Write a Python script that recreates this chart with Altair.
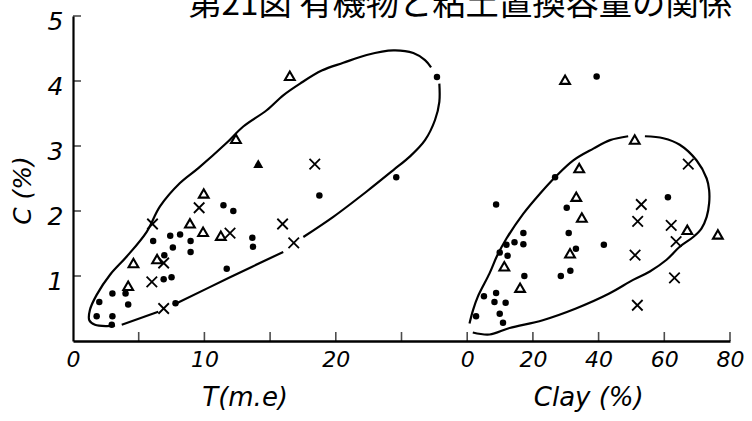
import altair as alt
import pandas as pd

# ---- C (%) against exchange capacity T (m.e) ----
t_dot_T = [1.8, 3.0, 2.95, 2.0, 4.2, 3.0, 4.0, 6.9, 7.5, 7.8, 11.7, 6.95, 7.6, 8.95, 6.1, 7.4, 8.15, 8.95,
           11.45, 12.2, 13.65, 13.7, 18.75, 24.6, 27.7]
t_dot_C = [0.38, 0.38, 0.25, 0.6, 0.56, 0.73, 0.73, 0.95, 0.98, 0.58, 1.11, 1.32, 1.44, 1.37, 1.54, 1.62,
           1.64, 1.54, 2.09, 2.0, 1.59, 1.45, 2.24, 2.52, 4.06]
t_tri_T = [4.2, 4.6, 6.4, 8.9, 9.9, 11.25, 9.95, 12.4, 16.5]
t_tri_C = [0.85, 1.2, 1.26, 1.81, 1.68, 1.62, 2.27, 3.11, 4.08]
t_solid_T = [14.1]
t_solid_C = [2.73]
t_x_T = [6.0, 6.9, 6.9, 6.05, 9.6, 11.95, 15.95, 16.8, 18.4]
t_x_C = [0.91, 1.2, 0.5, 1.8, 2.05, 1.66, 1.8, 1.51, 2.72]

# ---- C (%) against clay (%) ----
c_dot_clay = [2.7, 10.9, 9.9, 5.1, 8.8, 8.3, 11.7, 17.4, 28.5, 31.4, 9.9, 12.3, 11.95, 14.4, 17.1, 17.1,
              30.9, 33.1, 41.6, 30.3, 8.8, 26.75, 39.4, 61.1]
c_dot_C = [0.38, 0.28, 0.42, 0.69, 0.74, 0.6, 0.59, 1.0, 1.0, 1.08, 1.36, 1.31, 1.48, 1.52, 1.66, 1.49,
           1.66, 1.42, 1.48, 2.05, 2.1, 2.52, 4.07, 2.21]
c_tri_clay = [11.3, 16.1, 31.3, 34.9, 33.2, 34.1, 29.8, 51.0, 67.0, 76.3]
c_tri_C = [1.15, 0.82, 1.35, 1.9, 2.22, 2.66, 4.02, 3.1, 1.71, 1.64]
c_x_clay = [53.0, 51.9, 62.1, 63.6, 51.1, 63.1, 51.8, 67.3]
c_x_C = [2.1, 1.84, 1.78, 1.53, 1.32, 0.97, 0.55, 2.72]

# ---- hand-drawn envelopes (broken strokes), as (x, C) pairs ----
env_T = [
    [(3.2, 0.24), (2.56, 0.23), (1.67, 0.25), (1.24, 0.32), (1.29, 0.48), (1.8, 0.71), (2.82, 1.02),
     (4.09, 1.3), (5.61, 1.68), (6.62, 2.07), (8.14, 2.43), (9.54, 2.66), (11.7, 3.05), (12.96, 3.3),
     (14.74, 3.55), (16.0, 3.78), (17.28, 3.96), (18.93, 4.16), (20.57, 4.28), (22.35, 4.4),
     (24.38, 4.47), (25.9, 4.43), (26.79, 4.32), (27.25, 4.21)],
    [(27.88, 3.96), (27.88, 3.68), (27.55, 3.4), (26.79, 3.09), (25.65, 2.84), (24.38, 2.63),
     (22.35, 2.3), (19.81, 1.91), (17.53, 1.6)],
    [(16.0, 1.37), (11.95, 0.98), (7.89, 0.58)],
    [(6.49, 0.45), (3.71, 0.25)],
]
env_clay = [
    [(0.7, 0.27), (1.8, 0.48), (3.3, 0.69), (6.8, 1.04), (9.1, 1.31), (12.0, 1.58), (17.1, 1.96),
     (22.2, 2.27), (26.75, 2.52), (32.3, 2.78), (38.4, 2.96), (43.5, 3.09), (49.0, 3.15)],
    [(54.1, 3.15), (59.7, 3.12), (64.7, 3.02), (69.8, 2.78), (72.9, 2.5), (73.65, 2.32), (73.65, 2.12),
     (72.9, 1.91), (71.3, 1.73), (68.8, 1.6), (64.7, 1.45), (60.7, 1.25), (55.6, 1.07), (50.5, 0.94),
     (43.25, 0.73), (33.1, 0.5), (23.0, 0.32), (12.9, 0.2), (6.8, 0.1), (1.7, 0.13)],
]

# tick positions on the shared x axis (T units; the clay panel starts at T = 30, 20 % clay = 5 units)
x_ticks = [5, 10, 15, 20, 25, 30, 35, 40, 45, 50]
x_labels = [0, 10, 20, 30, 35, 40, 45, 50]
y_ticks = [1, 2, 3, 4, 5]

TITLE = "第21図 有機物と粘土置換容量の関係"

CLAY_ORIGIN = 30
CLAY_PER_UNIT = 4


def rows(panel, kind, xs, cs):
    return [{"panel": panel, "kind": kind, "v": x, "C": c} for x, c in zip(xs, cs)]


pts = pd.DataFrame(
    rows("T", "dot", t_dot_T, t_dot_C) + rows("T", "tri", t_tri_T, t_tri_C)
    + rows("T", "solid", t_solid_T, t_solid_C) + rows("T", "x", t_x_T, t_x_C)
    + rows("Clay", "dot", c_dot_clay, c_dot_C) + rows("Clay", "tri", c_tri_clay, c_tri_C)
    + rows("Clay", "x", c_x_clay, c_x_C)
)

env_rows = []
for panel, segs in (("T", env_T), ("Clay", env_clay)):
    for s, seg in enumerate(segs):
        for i, (x, c) in enumerate(seg):
            env_rows.append({"panel": panel, "seg": f"{panel}{s}", "i": i, "v": x, "C": c})
env = pd.DataFrame(env_rows)

ticks = pd.DataFrame(
    [{"pos": v, "C": 0.0, "dir": "x"} for v in x_ticks] + [{"pos": 0.0, "C": v, "dir": "y"} for v in y_ticks]
)

names = pd.DataFrame([
    {"panel": "T", "v": 13.1, "label": "T(m.e)"},
    {"panel": "Clay", "v": 37.0, "label": "Clay (%)"},
])

pos_expr = f"datum.panel == 'T' ? datum.v : {CLAY_ORIGIN} + datum.v / {CLAY_PER_UNIT}"

FONT = "DejaVu Sans"

x_axis = alt.Axis(
    values=x_labels,
    labelExpr=f"datum.value <= 20 ? datum.label : format((datum.value - {CLAY_ORIGIN}) * {CLAY_PER_UNIT}, 'd')",
    ticks=False, grid=False, domainColor="black", domainWidth=2.6,
    labelFont=FONT, labelFontStyle="italic", labelFontSize=22, labelColor="black",
    labelPadding=8, labelFlush=False, labelOverlap=False, title=None,
)
y_axis = alt.Axis(
    values=y_ticks, ticks=False, grid=False, domainColor="black", domainWidth=2.2,
    labelFont=FONT, labelFontStyle="italic", labelFontSize=25, labelColor="black",
    labelPadding=10, labelOffset=5, labelFlush=False,
    title="C (%)", titleFont=FONT, titleFontStyle="italic", titleFontWeight="normal", titleFontSize=25,
    titleColor="black", titleX=-51, titleY=174, titleAngle=270, titleAlign="center", titleBaseline="middle",
)

x_enc = alt.X("pos:Q", scale=alt.Scale(domain=[0, 50], nice=False, zero=False), axis=x_axis)
y_enc = alt.Y("C:Q", scale=alt.Scale(domain=[0, 5], nice=False), axis=y_axis)

X_PATH = "M -1 -1 L 1 1 M 1 -1 L -1 1"

points = alt.Chart(pts).transform_calculate(pos=pos_expr)

dots = points.transform_filter("datum.kind == 'dot'").mark_point(
    shape="circle", filled=True, size=42, color="black", opacity=1
).encode(x=x_enc, y=y_enc)
tris = points.transform_filter("datum.kind == 'tri'").mark_point(
    shape="triangle-up", filled=False, size=95, color="black", strokeWidth=2.1, opacity=1
).encode(x=x_enc, y=y_enc)
solid = points.transform_filter("datum.kind == 'solid'").mark_point(
    shape="triangle-up", filled=True, size=100, color="black", opacity=1
).encode(x=x_enc, y=y_enc)
crosses = points.transform_filter("datum.kind == 'x'").mark_point(
    shape=X_PATH, filled=False, size=110, color="black", strokeWidth=1.8, opacity=1
).encode(x=x_enc, y=y_enc)

curves = alt.Chart(env).transform_calculate(pos=pos_expr).mark_line(
    color="black", strokeWidth=2.2, interpolate="catmull-rom"
).encode(x=x_enc, y=y_enc, detail="seg:N", order="i:Q")

x_tick_marks = alt.Chart(ticks).transform_filter("datum.dir == 'x'").mark_tick(
    orient="vertical", size=9, thickness=1.6, yOffset=-4.5, color="black"
).encode(x=x_enc, y=y_enc)
y_tick_marks = alt.Chart(ticks).transform_filter("datum.dir == 'y'").mark_tick(
    orient="horizontal", size=8, thickness=1.6, xOffset=4, color="black"
).encode(x=x_enc, y=y_enc)

axis_names = alt.Chart(names).transform_calculate(pos=pos_expr).mark_text(
    font=FONT, fontStyle="italic", fontSize=26, color="black", baseline="middle"
).encode(x=x_enc, y=alt.value(382), text="label:N")

# figure caption along the top edge, right-aligned with the end of the x axis
caption = alt.Chart(pd.DataFrame({"t": [TITLE]})).mark_text(
    font="Noto Sans CJK JP", fontSize=33.3, color="black", align="right", baseline="alphabetic"
).encode(x=alt.value(659), y=alt.value(-1), text="t:N")

chart = alt.layer(
    curves, x_tick_marks, y_tick_marks, dots, tris, solid, crosses, axis_names, caption
).properties(
    width=657,
    height=325,
    autosize=alt.AutoSizeParams(type="none"),
    padding={"left": 73, "top": 16, "right": 22, "bottom": 80},
    background="white",
).configure_view(stroke=None)

chart.save("out.html", embed_options={"renderer": "svg", "actions": False})
